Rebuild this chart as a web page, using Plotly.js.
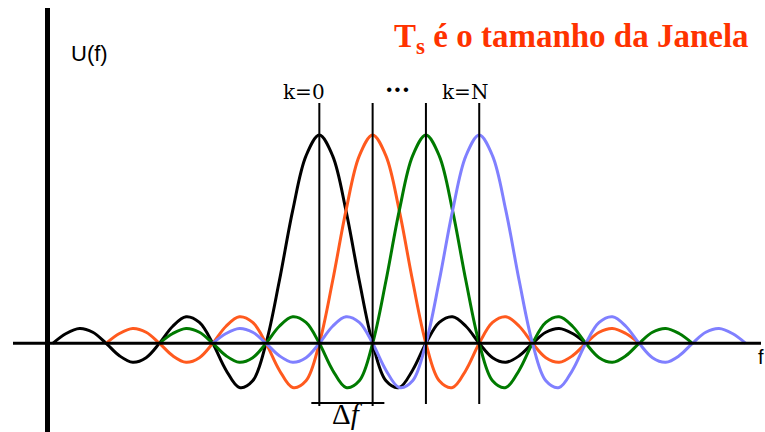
<!DOCTYPE html>
<html>
<head>
<meta charset="utf-8">
<script src="https://cdn.plot.ly/plotly-3.0.1.min.js"></script>
<style>
html,body{margin:0;padding:0;background:#ffffff;}
#chart{width:765px;height:432px;}
</style>
</head>
<body>
<div id="chart"></div>
<script>
// ---- data ----
// sub-carrier centre frequencies, in units of Δf measured from the U(f) axis
const centers = [5.1, 6.1, 7.1, 8.1];
const seriesColors = ['#000000', '#ff5a1e', '#007a00', '#8080ff'];
// offsets from each centre (units of Δf) and the pulse amplitude read at those offsets
const offsets = [-5, -4.75, -4.5, -4.25, -4, -3.75, -3.5, -3.25, -3, -2.75, -2.5, -2.25, -2, -1.75, -1.5, -1.25, -1, -0.75, -0.5, -0.25,
                 0, 0.25, 0.5, 0.75, 1, 1.25, 1.5, 1.75, 2, 2.25, 2.5, 2.75, 3, 3.25, 3.5, 3.75, 4, 4.25, 4.5, 4.75, 5];
const pulse = [0, 0.047, 0.071, 0.053, 0, -0.060, -0.091, -0.069, 0, 0.082, 0.127, 0.100, 0, -0.129, -0.212, -0.180, 0, 0.300, 0.637, 0.900,
               1, 0.900, 0.637, 0.300, 0, -0.180, -0.212, -0.129, 0, 0.100, 0.127, 0.082, 0, -0.069, -0.091, -0.060, 0, 0.053, 0.071, 0.047, 0];
const labels = ['k=0', '...', 'k=N'];

// ---- layout helpers (pixel -> paper) ----
const M = {l: 13, r: 4, t: 8, b: 0};
const W = 765, H = 432;
const PW = W - M.l - M.r, PH = H - M.t - M.b;
const px = x => (x - M.l) / PW;
const py = y => (H - M.b - y) / PH;

const traces = centers.map((c, i) => ({
  type: 'scatter', mode: 'lines',
  x: offsets.map(o => c + o),
  y: pulse,
  line: {color: seriesColors[i], width: 3, shape: 'spline', smoothing: 1},
  hoverinfo: 'skip', showlegend: false
}));

const shapes = [];
// axes
shapes.push({type: 'line', xref: 'x', yref: 'paper', x0: 0, x1: 0, y0: 0, y1: 1, line: {color: '#000', width: 5}, layer: 'above'});
shapes.push({type: 'line', xref: 'paper', yref: 'y', x0: 0, x1: 1, y0: 0, y1: 0, line: {color: '#000', width: 3}, layer: 'above'});
// vertical markers through each centre
centers.forEach((c, i) => {
  shapes.push({type: 'line', xref: 'x', yref: 'paper', x0: c, x1: c, y0: py(i < 2 ? 406 : 404), y1: py(103),
               line: {color: '#000', width: 2}, layer: 'above'});
});
// Δf bracket
shapes.push({type: 'line', xref: 'x', yref: 'paper', x0: centers[0] - 0.15, x1: centers[1] + 0.22, y0: py(403), y1: py(403),
             line: {color: '#000', width: 2}, layer: 'above'});

const annotations = [
  {text: 'T<sub>s</sub> é o tamanho da Janela', xref: 'paper', yref: 'paper', x: px(392), y: py(38), xanchor: 'left', yanchor: 'middle',
   showarrow: false, font: {family: 'Liberation Serif, serif', size: 33, color: '#ff3300', weight: 'bold'}},
  {text: 'U(f)', xref: 'paper', yref: 'paper', x: px(89), y: py(53), xanchor: 'center', yanchor: 'middle',
   showarrow: false, font: {family: 'Liberation Sans, sans-serif', size: 22, color: '#000'}},
  {text: labels[0], xref: 'paper', yref: 'paper', x: px(303.5), y: py(92), xanchor: 'center', yanchor: 'middle',
   showarrow: false, font: {family: 'DejaVu Serif, serif', size: 20, color: '#000'}},
  {text: '<b>' + labels[1] + '</b>', xref: 'paper', yref: 'paper', x: px(398), y: py(83), xanchor: 'center', yanchor: 'middle',
   showarrow: false, font: {family: 'DejaVu Serif, serif', size: 24, color: '#000'}},
  {text: labels[2], xref: 'paper', yref: 'paper', x: px(465), y: py(92), xanchor: 'center', yanchor: 'middle',
   showarrow: false, font: {family: 'DejaVu Serif, serif', size: 20, color: '#000'}},
  {text: 'Δ<i>f</i>', xref: 'paper', yref: 'paper', x: px(347), y: 0, xanchor: 'center', yanchor: 'bottom',
   showarrow: false, font: {family: 'Liberation Serif, serif', size: 29, color: '#000'}},
  {text: 'f', xref: 'paper', yref: 'paper', x: px(756), y: py(357), xanchor: 'left', yanchor: 'middle',
   showarrow: false, font: {family: 'Liberation Sans, sans-serif', size: 20, color: '#000'}}
];

const xPerPx = 1 / 53.3, yPerPx = 1 / 208.3;
const layout = {
  width: W, height: H,
  margin: M,
  paper_bgcolor: '#ffffff', plot_bgcolor: '#ffffff',
  xaxis: {range: [(M.l - 47.5) * xPerPx, (W - M.r - 47.5) * xPerPx], visible: false, fixedrange: true},
  yaxis: {range: [-(H - M.b - 343.3) * yPerPx, (343.3 - M.t) * yPerPx], visible: false, fixedrange: true},
  shapes: shapes,
  annotations: annotations,
  showlegend: false
};

Plotly.newPlot('chart', traces, layout, {staticPlot: true, displayModeBar: false});
</script>
</body>
</html>
